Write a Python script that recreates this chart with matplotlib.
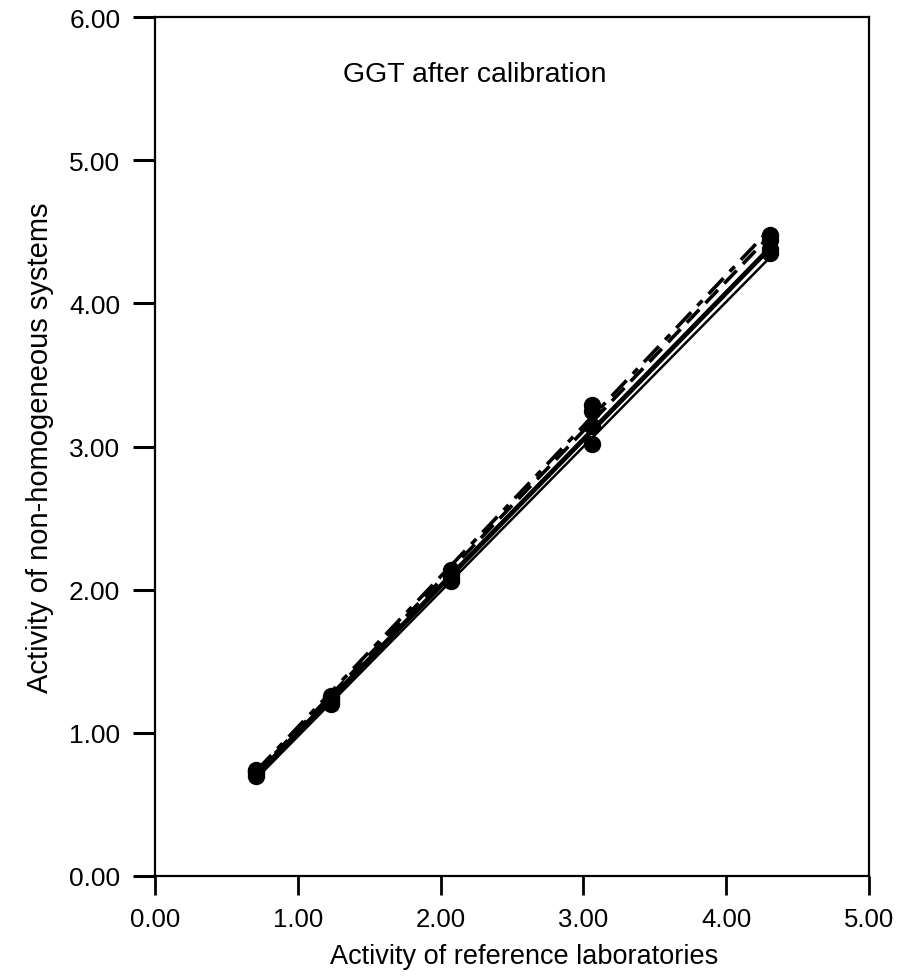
import numpy as np
import matplotlib
matplotlib.use("Agg")
import matplotlib.pyplot as plt

plt.rcParams['font.family'] = ['Liberation Sans', 'DejaVu Sans']

# Reference laboratory activity (x) for the 5 samples
x_ref = [0.71, 1.23, 2.07, 3.06, 4.31]

# Activity of non-homogeneous systems (y), one series per system
sys_a = [0.72, 1.22, 2.08, 3.14, 4.38]   # thick solid
sys_b = [0.73, 1.24, 2.11, 3.25, 4.44]   # dashed
sys_c = [0.74, 1.26, 2.14, 3.29, 4.48]   # dash-dot
sys_d = [0.70, 1.20, 2.06, 3.02, 4.35]   # thin solid

series = [sys_a, sys_b, sys_c, sys_d]
styles = [dict(ls='-', lw=3.5),
          dict(ls=(0, (5, 2.5)), lw=2.6),
          dict(ls=(0, (6, 2.5, 2, 2.5)), lw=2.6),
          dict(ls='-', lw=1.8)]

x_ticks = [0, 1, 2, 3, 4, 5]
y_ticks = [0, 1, 2, 3, 4, 5, 6]
tick_labels_x = ["0.00", "1.00", "2.00", "3.00", "4.00", "5.00"]
tick_labels_y = ["0.00", "1.00", "2.00", "3.00", "4.00", "5.00", "6.00"]

fig = plt.figure(figsize=(9.11, 9.78), dpi=100)
ax = fig.add_axes([155/911, 1-877/978, (869-155)/911, (877-18)/978])

xr = np.array(x_ref)
xx = np.array([xr.min(), xr.max()])
for ys, st in zip(series, styles):
    k, b = np.polyfit(xr, np.array(ys), 1)
    ax.plot(xx, k*xx + b, color='black', solid_capstyle='butt', **st)
    ax.plot(xr, ys, 'o', color='black', ms=11.5, zorder=5)

ax.set_xlim(0, 5)
ax.set_ylim(0, 6)
ax.set_xticks(x_ticks)
ax.set_xticklabels(tick_labels_x, fontsize=18.5)
ax.set_yticks(y_ticks)
ax.set_yticklabels(tick_labels_y, fontsize=19)
ax.tick_params(axis='x', direction='out', length=14, width=2, pad=8)
ax.tick_params(axis='y', direction='out', length=16, width=2.2, pad=9)
for s in ax.spines.values():
    s.set_linewidth(1.6)

ax.set_xlabel("Activity of reference laboratories", fontsize=19.5, labelpad=9, x=0.517)
ax.set_ylabel("Activity of non-homogeneous systems", fontsize=21, labelpad=11)
ax.text(2.24, 5.6, "GGT after calibration", fontsize=20.5, ha='center', va='center')

fig.savefig("out.png", dpi=100)
